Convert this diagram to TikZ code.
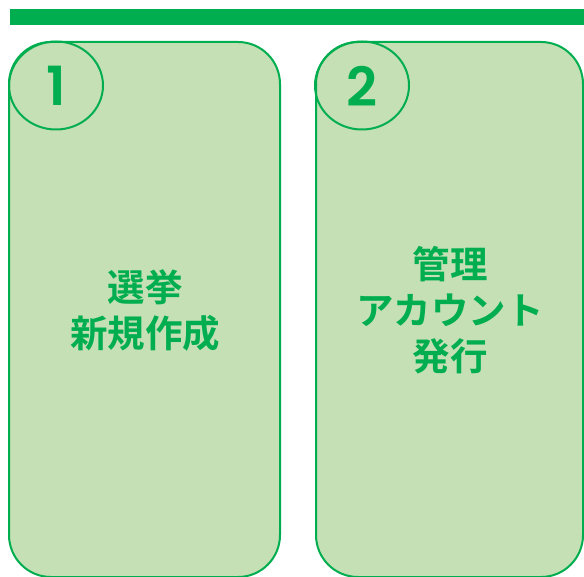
\documentclass[tikz,border=0pt]{standalone}
\usepackage{fontspec}
\newfontfamily\cjk{Noto Sans CJK JP Bold}
\newfontfamily\numfont{Poppins SemiBold}
\definecolor{gr}{HTML}{00AE4F}
\definecolor{lg}{HTML}{C5E0B4}
\begin{document}
\begin{tikzpicture}[x=1pt,y=-1pt,
  card/.style={draw=gr,fill=lg,line width=2pt,rounded corners=42pt},
  badge/.style={draw=gr,line width=2pt},
  num/.style={text=gr,font=\numfont\fontsize{54}{54}\selectfont},
  lbl/.style={text=gr,font=\cjk\fontsize{37.5}{46}\selectfont,align=center}]
\useasboundingbox (0,0) rectangle (584,577);
\fill[gr] (10,9) rectangle (584,25);
\draw[card] (9,42) rectangle (280,577);
\draw[card] (316,42) rectangle (583,577);
\draw[badge] (56,85.5) ellipse [x radius=47, y radius=44];
\draw[badge] (362,85.5) ellipse [x radius=47, y radius=44];
\node[num] (n1) at (56,86) {1};
\node[num] (n2) at (362,86) {2};
\node[lbl] (t1) at (145,310) {選挙\\新規作成};
\node[lbl] (t2) at (450,310) {管理\\アカウント\\発行};
\end{tikzpicture}
\end{document}
